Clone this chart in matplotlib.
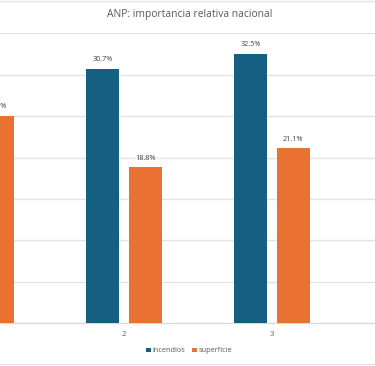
import matplotlib.pyplot as plt
import numpy as np

categories = ["1", "2", "3"]
incendios = [28.0, 30.7, 32.5]
superficie = [25.0, 18.8, 21.1]
series_names = ["incendios", "superficie"]
colors = ["#156082", "#E97132"]

plt.rcParams["font.family"] = ["Open Sans", "DejaVu Sans"]

fig = plt.figure(figsize=(3.75, 3.66), dpi=100)
# plot area: the left part of the chart is cut off in the reference
ax = fig.add_axes([0, 43 / 366, 1, (323 - 33.4) / 366])

x = np.arange(1, len(categories) + 1)
w = 0.223
off = 0.143
b1 = ax.bar(x - off, incendios, w, color=colors[0], label=series_names[0], zorder=3)
b2 = ax.bar(x + off, superficie, w, color=colors[1], label=series_names[1], zorder=3)

for bars in (b1, b2):
    for r in bars:
        ax.text(r.get_x() + r.get_width() / 2, r.get_height() + 0.7,
                f"{r.get_height():.1f}%", ha="center", va="bottom",
                fontsize=5.2, color="#404040", clip_on=True)

ax.set_xticks(x)
ax.set_xticklabels(categories)
ax.set_xlim(2 - 124 / 148, 2 + 251 / 148)
ax.set_ylim(0, 35)
ax.set_yticks(np.arange(0, 36, 5))
ax.yaxis.grid(True, color="#e3e3e3", linewidth=1, zorder=0)
ax.tick_params(axis="y", left=False, labelleft=False)
ax.tick_params(axis="x", length=0, labelsize=5.5, labelcolor="#595959", pad=6)
for s in ["top", "right", "left"]:
    ax.spines[s].set_visible(False)
ax.spines["bottom"].set_color("#d9d9d9")
ax.set_facecolor("none")

fig.text(0.507, 1 - 15 / 366, "ANP: importancia relativa nacional",
         ha="center", va="center", fontsize=7.4, color="#595959")

fig.legend(handles=[b1, b2], loc="center", bbox_to_anchor=(0.505, 1 - 351 / 366),
           ncol=2, frameon=False, fontsize=5.3, labelcolor="#595959",
           handlelength=0.6, handleheight=0.6, handletextpad=0.3, columnspacing=0.9)

# chart border lines
fig.add_artist(plt.Line2D([0, 1], [1 - 1 / 366] * 2, color="#e3e3e3", lw=1))
fig.add_artist(plt.Line2D([0, 1], [1 - 364 / 366] * 2, color="#e3e3e3", lw=1))

fig.savefig("out.png", dpi=100)
